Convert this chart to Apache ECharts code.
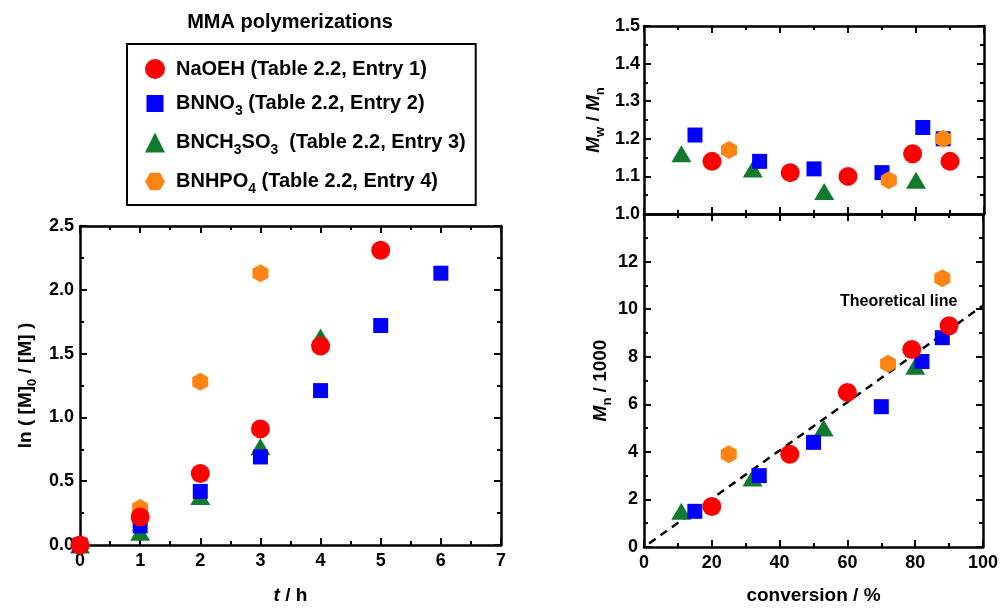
<!DOCTYPE html>
<html>
<head>
<meta charset="utf-8">
<script src="https://cdn.jsdelivr.net/npm/echarts@6/dist/echarts.min.js"></script>
<style>html,body{margin:0;padding:0;background:#fff}#c{width:1001px;height:610px}</style>
</head>
<body>
<div id="c"></div>
<script>
// ---------- data ----------
const seriesNames = ['NaOEH (Table 2.2, Entry 1)', 'BNNO3 (Table 2.2, Entry 2)', 'BNCH3SO3 (Table 2.2, Entry 3)', 'BNHPO4 (Table 2.2, Entry 4)'];
const kinTime = [0, 1, 2, 3, 4, 5, 6];
const kinNaOEH = [0, 0.22, 0.56, 0.91, 1.56, 2.31];
const kinBNNO3 = [0, 0.15, 0.42, 0.69, 1.21, 1.72, 2.13];
const kinBNCH3SO3 = [0, 0.10, 0.38, 0.77, 1.63];
const kinBNHPO4 = [0, 0.29, 1.28, 2.13];

const convNaOEH = [20, 43, 60, 79, 90];
const pdiNaOEH = [1.14, 1.11, 1.10, 1.16, 1.14];
const mnNaOEH = [1.7, 3.9, 6.5, 8.3, 9.3];

const convBNNO3 = [15, 34, 50, 70, 82, 88];
const pdiBNNO3 = [1.21, 1.14, 1.12, 1.11, 1.23, 1.20];
const mnBNNO3 = [1.5, 3.0, 4.4, 5.9, 7.8, 8.8];

const convBNCH3SO3 = [11, 32, 53, 80];
const pdiBNCH3SO3 = [1.16, 1.12, 1.06, 1.09];
const mnBNCH3SO3 = [1.5, 2.9, 5.0, 7.6];

const convBNHPO4 = [25, 72, 88];
const pdiBNHPO4 = [1.17, 1.09, 1.20];
const mnBNHPO4 = [3.9, 7.7, 11.3];

const theoryConv = [1.5, 100];
const theoryMn = [0.15, 10.15];

const colors = ['#ff0000', '#0000ff', '#117a2e', '#ff8414'];

// ---------- helpers ----------
const zip = (xs, ys) => ys.map((y, i) => [xs[i], y]);
const FONT = '"Liberation Sans", Arial, sans-serif';
const hexPointy = 'path://M0,-1L0.866,-0.5L0.866,0.5L0,1L-0.866,0.5L-0.866,-0.5Z';
const hexFlat = 'path://M-1,0L-0.5,-0.866L0.5,-0.866L1,0L0.5,0.866L-0.5,0.866Z';
const squareIcon = 'path://M0,0L0.01,0M20,20L20.01,20M1.5,1.5H18.5V18.5H1.5Z';

const symbols = [
  {symbol: 'circle', size: 19},
  {symbol: 'rect', size: 15},
  {symbol: 'triangle', size: [20, 17]},
  {symbol: hexPointy, size: [16, 18]}
];

const rich = {
  t: {fontFamily: FONT, fontWeight: 'bold', fontSize: 19, lineHeight: 27, color: '#000'},
  i: {fontFamily: FONT, fontWeight: 'bold', fontStyle: 'italic', fontSize: 19, lineHeight: 27, color: '#000'},
  s: {fontFamily: FONT, fontWeight: 'bold', fontSize: 13, lineHeight: 13, color: '#000', padding: [14, 0, 0, 0]}
};
const legendRich = {
  t: {fontFamily: FONT, fontWeight: 'bold', fontSize: 20, lineHeight: 29, color: '#000'},
  s: {fontFamily: FONT, fontWeight: 'bold', fontSize: 14, lineHeight: 14, color: '#000', padding: [15, 0, 0, 0]}
};
const legendLabels = {};
legendLabels[seriesNames[0]] = '{t|NaOEH (Table 2.2, Entry 1)}';
legendLabels[seriesNames[1]] = '{t|BNNO}{s|3}{t| (Table 2.2, Entry 2)}';
legendLabels[seriesNames[2]] = '{t|BNCH}{s|3}{t|SO}{s|3}{t|  (Table 2.2, Entry 3)}';
legendLabels[seriesNames[3]] = '{t|BNHPO}{s|4}{t| (Table 2.2, Entry 4)}';

const lineStyle = {color: '#000', width: 2.5};
const tickStyle = {color: '#000', width: 2};
const labelStyle = {fontFamily: FONT, fontWeight: 'bold', fontSize: 18, color: '#000'};

function mainAxis(opts) {
  return Object.assign({
    type: 'value',
    axisLine: {show: true, onZero: false, lineStyle: lineStyle},
    axisTick: {show: true, inside: true, length: 7, lineStyle: tickStyle},
    minorTick: {show: true, splitNumber: 2, length: 4, lineStyle: tickStyle},
    splitLine: {show: false},
    axisLabel: Object.assign({show: true}, labelStyle),
    nameTextStyle: {rich: rich},
    nameLocation: 'middle'
  }, opts);
}
function mirrorAxis(opts) {
  return Object.assign({
    type: 'value',
    axisLine: {show: true, onZero: false, lineStyle: lineStyle},
    axisTick: {show: true, inside: true, length: 7, lineStyle: tickStyle},
    minorTick: {show: true, splitNumber: 2, length: 4, lineStyle: tickStyle},
    splitLine: {show: false},
    axisLabel: {show: false}
  }, opts);
}

const xAxis = [
  mainAxis({gridIndex: 0, position: 'bottom', min: 0, max: 7, interval: 1,
    axisLabel: Object.assign({margin: 7}, labelStyle),
    name: '{i|t}{t| / h}', nameGap: 37}),
  mirrorAxis({gridIndex: 0, position: 'top', min: 0, max: 7, interval: 1}),
  mirrorAxis({gridIndex: 1, position: 'bottom', min: 0, max: 100, interval: 20}),
  mirrorAxis({gridIndex: 1, position: 'top', min: 0, max: 100, interval: 20}),
  mainAxis({gridIndex: 2, position: 'bottom', min: 0, max: 100, interval: 20,
    axisLabel: Object.assign({margin: 7}, labelStyle),
    name: '{t|conversion / %}', nameGap: 35}),
  mirrorAxis({gridIndex: 2, position: 'top', min: 0, max: 100, interval: 20})
];
const yAxis = [
  mainAxis({gridIndex: 0, position: 'left', min: 0, max: 2.5, interval: 0.5,
    axisLabel: Object.assign({margin: 6, formatter: v => v.toFixed(1)}, labelStyle),
    name: '{t|ln ( [M]}{s|0}{t| / [M] )}', nameGap: 41}),
  mirrorAxis({gridIndex: 0, position: 'right', min: 0, max: 2.5, interval: 0.5}),
  mainAxis({gridIndex: 1, position: 'left', min: 1.0, max: 1.5, interval: 0.1,
    axisLabel: Object.assign({margin: 4, formatter: v => v.toFixed(1)}, labelStyle),
    name: '{i|M}{s|w}{t| / }{i|M}{s|n}', nameGap: 37}),
  mirrorAxis({gridIndex: 1, position: 'right', min: 1.0, max: 1.5, interval: 0.1}),
  mainAxis({gridIndex: 2, position: 'left', min: 0, max: 14, interval: 2,
    axisLabel: Object.assign({margin: 6, formatter: v => (v === 14 ? '' : String(v))}, labelStyle),
    name: '{i|M}{s|n}{t| / 1000}', nameGap: 25}),
  mirrorAxis({gridIndex: 2, position: 'right', min: 0, max: 14, interval: 2})
];

// draw order (later on top): green, blue, orange, red
const order = [2, 1, 3, 0];
const kin = [zip(kinTime, kinNaOEH), zip(kinTime, kinBNNO3), zip(kinTime, kinBNCH3SO3), zip(kinTime, kinBNHPO4)];
const pdi = [zip(convNaOEH, pdiNaOEH), zip(convBNNO3, pdiBNNO3), zip(convBNCH3SO3, pdiBNCH3SO3), zip(convBNHPO4, pdiBNHPO4)];
const mn = [zip(convNaOEH, mnNaOEH), zip(convBNNO3, mnBNNO3), zip(convBNCH3SO3, mnBNCH3SO3), zip(convBNHPO4, mnBNHPO4)];

const series = [];
series.push({
  type: 'line', name: 'Theoretical line', xAxisIndex: 4, yAxisIndex: 4,
  data: zip(theoryConv, theoryMn), symbol: 'none', silent: true,
  lineStyle: {color: '#000', width: 2.5, type: [8, 6]}, z: 1
});
[[kin, 0], [pdi, 2], [mn, 4]].forEach(([sets, ax]) => {
  order.forEach(k => {
    series.push({
      type: 'scatter', name: seriesNames[k], xAxisIndex: ax, yAxisIndex: ax,
      data: sets[k], symbol: symbols[k].symbol, symbolSize: symbols[k].size,
      itemStyle: {color: colors[k], opacity: 1}, z: 3
    });
  });
});

const option = {
  animation: false,
  backgroundColor: '#fff',
  grid: [
    {left: 80, top: 226, width: 421, height: 326},
    {left: 644, top: 26, width: 340, height: 188},
    {left: 644, top: 214, width: 340, height: 338}
  ],
  xAxis: xAxis,
  yAxis: yAxis,
  legend: {
    orient: 'vertical', left: 127, top: 44,
    selectedMode: false,
    borderColor: '#000', borderWidth: 2,
    padding: [15, 10, 9, 18],
    itemGap: 10, itemWidth: 20, itemHeight: 20,
    data: [
      {name: seriesNames[0], icon: 'circle'},
      {name: seriesNames[1], icon: squareIcon},
      {name: seriesNames[2], icon: 'triangle'},
      {name: seriesNames[3], icon: hexFlat}
    ],
    formatter: name => legendLabels[name],
    textStyle: {rich: legendRich, padding: [0, 0, 0, 6]}
  },
  graphic: [
    {type: 'text', x: 290, y: 22, silent: true,
      style: {text: 'MMA polymerizations', fontFamily: FONT, fontWeight: 'bold', fontSize: 20,
        fill: '#000', align: 'center', verticalAlign: 'middle'}},
    {type: 'text', x: 840, y: 302, silent: true,
      style: {text: 'Theoretical line', fontFamily: FONT, fontWeight: 'bold', fontSize: 16,
        fill: '#000', align: 'left', verticalAlign: 'middle'}}
  ],
  series: series
};

const chart = echarts.init(document.getElementById('c'), null, {renderer: 'canvas'});
chart.setOption(option);
</script>
</body>
</html>
